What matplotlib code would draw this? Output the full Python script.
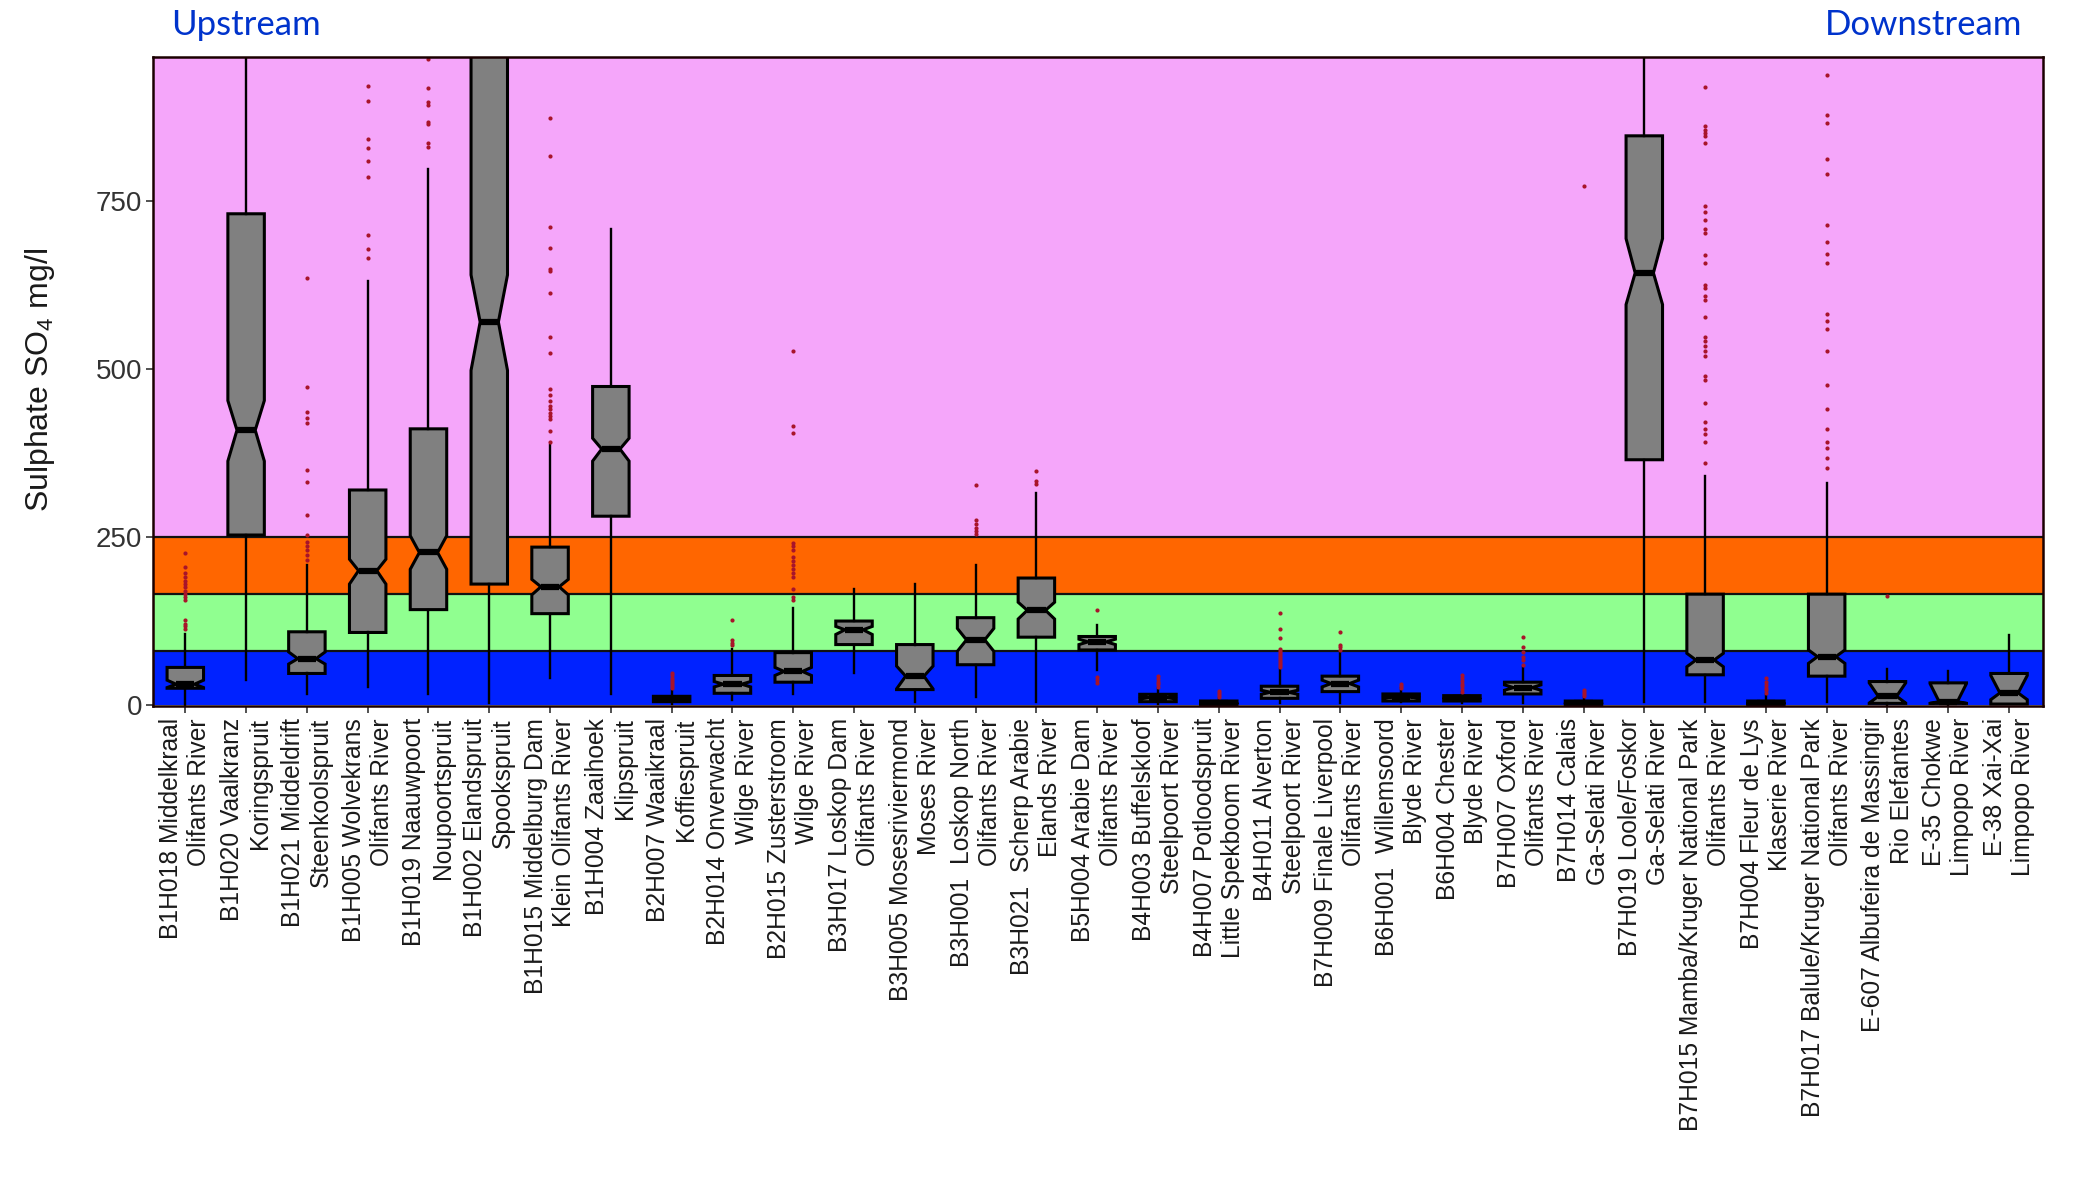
import matplotlib
matplotlib.use("Agg")
import matplotlib.pyplot as plt

plt.rcParams['font.family'] = ['Liberation Sans', 'DejaVu Sans']
plt.rcParams['mathtext.fontset'] = 'custom'
plt.rcParams['mathtext.rm'] = 'Liberation Sans'
plt.rcParams['mathtext.it'] = 'Liberation Sans'

stations = [
    "B1H018 Middelkraal\nOlifants River",
    "B1H020 Vaalkranz\nKoringspruit",
    "B1H021 Middeldrift\nSteenkoolspruit",
    "B1H005 Wolvekrans\nOlifants River",
    "B1H019 Naauwpoort\nNoupoortspruit",
    "B1H002 Elandspruit\nSpookspruit",
    "B1H015 Middelburg Dam\nKlein Olifants River",
    "B1H004 Zaaihoek\nKlipspruit",
    "B2H007 Waaikraal\nKoffiespruit",
    "B2H014 Onverwacht\nWilge River",
    "B2H015 Zusterstroom\nWilge River",
    "B3H017 Loskop Dam\nOlifants River",
    "B3H005 Mosesriviermond\nMoses River",
    "B3H001  Loskop North\nOlifants River",
    "B3H021  Scherp Arabie\nElands River",
    "B5H004 Arabie Dam\nOlifants River",
    "B4H003 Buffelskloof\nSteelpoort River",
    "B4H007 Potloodspruit\nLittle Spekboom River",
    "B4H011 Alverton\nSteelpoort River",
    "B7H009 Finale Liverpool\nOlifants River",
    "B6H001  Willemsoord\nBlyde River",
    "B6H004 Chester\nBlyde River",
    "B7H007 Oxford\nOlifants River",
    "B7H014 Calais\nGa-Selati River",
    "B7H019 Loole/Foskor\nGa-Selati River",
    "B7H015 Mamba/Kruger National Park\nOlifants River",
    "B7H004 Fleur de Lys\nKlaserie River",
    "B7H017 Balule/Kruger National Park\nOlifants River",
    "E-607 Albufeira de Massingir\nRio Elefantes",
    "E-35 Chokwe\nLimpopo River",
    "E-38 Xai-Xai\nLimpopo River",
]

whislo = [0, 38, 17, 27, 17, 3, 40, 17, 2, 7, 17, 47, 5, 12, 5, 52,
          2, 0, 3, 3, 4, 3, 3, 0, 4, 4, 0, 5, 0, 0, 1]
q1 = [25, 253, 47, 108, 142, 180, 136, 281, 5, 17.5, 34, 90, 23, 60, 101, 82,
      5, 0.5, 10, 20, 6, 6, 16.5, 0.5, 365, 45, 0.5, 43, 2.5, 2.5, 1.5]
med = [31, 409, 69, 200, 227, 570, 176, 381, 9, 31, 50, 112, 43, 97, 141, 94,
       11, 2.5, 19, 32, 12, 10, 26, 2.5, 643, 67, 2.5, 72, 13, 5, 18]
q3 = [56, 731, 109, 320, 411, 1000, 235, 474, 13, 44, 78, 125, 90, 130, 189, 102,
      16, 6, 28, 43, 16.5, 14, 34, 6, 847, 165, 6, 165, 35, 33, 47]
whishi = [106, 1200, 208, 631, 798, 1200, 387, 709, 22, 83, 144, 172, 180, 208, 315, 119,
          25, 10, 54, 77, 25, 19, 57, 12, 1200, 341, 16, 331, 53, 51, 104]
cilo = [26, 363, 61, 180, 202, 498, 164, 363, 7, 27, 44, 105, 24, 80, 128, 90,
        9, 1.5, 16, 27, 10, 8.5, 22, 1.5, 596, 57, 1.5, 62, 3, 2.6, 8]
cihi = [37, 453, 79, 217, 252, 640, 187, 397, 11, 35, 56, 117, 58, 114, 153, 98,
        13, 3.5, 22, 37, 14, 11.5, 30, 3.5, 694, 77, 3.5, 82, 33, 32, 44]
outliers = [
    [113, 117, 120, 127, 156, 161, 165, 170, 175, 180, 185, 190, 196, 206, 226],
    [],
    [216, 223, 230, 236, 243, 253, 283, 332, 350, 420, 427, 436, 473, 635],
    [665, 678, 699, 786, 810, 829, 842, 899, 921],
    [831, 836, 865, 868, 893, 897, 918, 962],
    [],
    [392, 408, 425, 430, 435, 440, 445, 452, 461, 471, 524, 548, 613, 646, 649, 680, 711, 817, 874],
    [],
    [25, 28, 31, 34, 37, 40, 44, 47],
    [89, 93, 97, 127],
    [156, 161, 173, 190, 197, 202, 209, 215, 221, 230, 236, 241, 405, 415, 527],
    [],
    [],
    [255, 259, 264, 270, 276, 327],
    [329, 334, 348],
    [33, 37, 42, 142],
    [27, 31, 35, 39, 43],
    [12, 15, 18, 21],
    [56, 59, 62, 65, 68, 71, 74, 77, 80, 83, 100, 113, 137],
    [82, 86, 89, 108],
    [26, 28, 31],
    [20, 24, 28, 32, 36, 40, 44],
    [59, 67, 72, 79, 86, 101],
    [13, 16, 19, 22, 772],
    [],
    [360, 391, 404, 411, 421, 449, 484, 490, 520, 527, 534, 541, 548, 577, 603, 609,
     620, 625, 658, 670, 702, 709, 722, 733, 743, 836, 846, 851, 856, 861, 920],
    [18, 22, 26, 30, 34, 40],
    [353, 367, 382, 391, 411, 440, 476, 527, 560, 572, 582, 658, 671, 689, 714, 790,
     813, 866, 878, 937],
    [162],
    [],
    [],
]

band_edges = [0, 80, 165, 250, 2000]
band_colors = ['#0022FF', '#90FF90', '#FF6600', '#F5A6FA']

fig = plt.figure(figsize=(21, 12), dpi=100)
ax = fig.add_axes([0.0729, 0.4119, 0.9000, 0.5410])

for lo, hi, c in zip(band_edges[:-1], band_edges[1:], band_colors):
    ax.axhspan(lo, hi, color=c, zorder=0, lw=0)
for e in band_edges[1:-1]:
    ax.axhline(e, color='#111111', lw=1.6, zorder=1)

stats = []
for i in range(len(stations)):
    stats.append(dict(med=med[i], q1=q1[i], q3=q3[i], whislo=whislo[i], whishi=whishi[i],
                      cilo=cilo[i], cihi=cihi[i], fliers=outliers[i], label=stations[i]))

positions = list(range(1, len(stations) + 1))
ax.bxp(stats, positions=positions, widths=0.6, shownotches=True, patch_artist=True,
       showcaps=False, manage_ticks=False, zorder=3,
       boxprops=dict(facecolor='#808080', edgecolor='black', linewidth=2.2),
       medianprops=dict(color='black', linewidth=4.5, solid_capstyle='butt'),
       whiskerprops=dict(color='black', linewidth=1.7),
       flierprops=dict(marker='o', markersize=3.0, markerfacecolor='#A8142A',
                       markeredgecolor='none', linestyle='none'))

ax.set_xlim(0.47, 31.56)
ax.set_ylim(-1, 965)
ax.set_yticks([0, 250, 500, 750])
ax.set_yticklabels(['0', '250', '500', '750'])
ax.set_xticks(positions)
ax.set_xticklabels(stations, rotation=90, ha='center', va='top', ma='right',
                   fontsize=17.7, linespacing=1.22, color='#1a1a1a')
ax.tick_params(axis='y', labelsize=20, length=5, width=1.2, pad=3, labelcolor='#333333', color='#333333')
ax.tick_params(axis='x', length=5, width=1.2, pad=4, color='#333333')
for s in ax.spines.values():
    s.set_color('#1a0000')
    s.set_linewidth(1.8)
    s.set_zorder(5)

fig.text(40 / 2100, 1 - 380 / 1200, r'Sulphate SO$_\mathrm{4}$ mg/l', rotation=90,
         ha='center', va='center', fontsize=23, color='#1a1a1a')

fig.text(171 / 2100, 1 - 25 / 1200, 'Upstream', ha='left', va='center',
         fontsize=25, color='#0033CC', family=['Lato', 'DejaVu Sans'])
fig.text(2022 / 2100, 1 - 25 / 1200, 'Downstream', ha='right', va='center',
         fontsize=25, color='#0033CC', family=['Lato', 'DejaVu Sans'])

fig.savefig('out.png', dpi=100)
